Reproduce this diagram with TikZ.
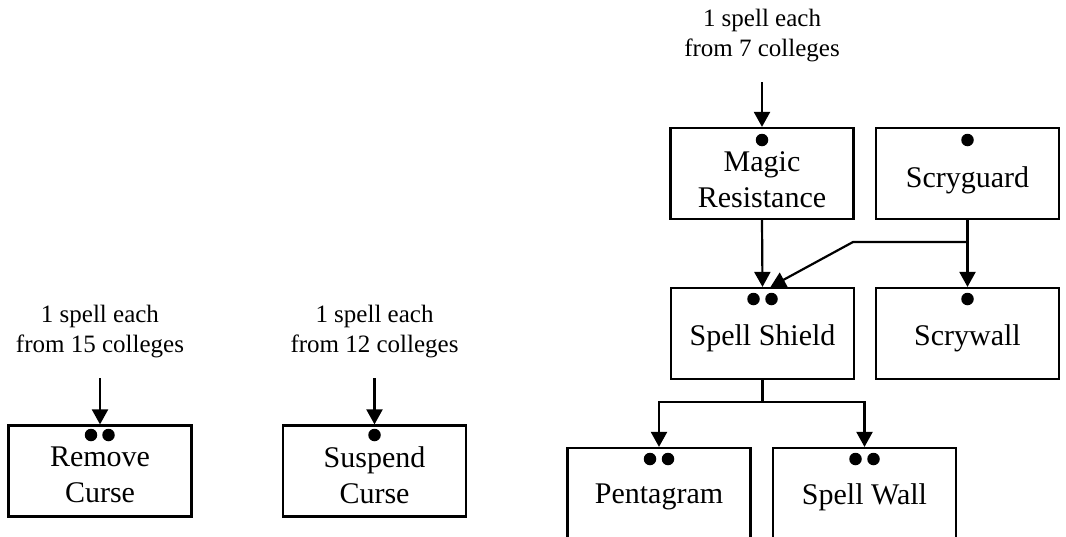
\documentclass[tikz,border=0pt]{standalone}
\usepackage{fontspec}
\setmainfont{Liberation Serif}
\usetikzlibrary{arrows.meta}
\begin{document}
\begin{tikzpicture}[x=1pt,y=-1pt,
  box/.style={draw,line width=2.2pt,minimum width=183pt,minimum height=91pt,inner sep=0pt},
  txt/.style={align=center,font=\fontsize{30}{36}\selectfont,inner sep=0pt},
  lab/.style={align=center,font=\fontsize{25}{30}\selectfont,inner sep=0pt},
  arr/.style={line width=2.2pt,-{Triangle[length=15pt,width=16pt]}},
  ln/.style={line width=2.2pt},
  dot/.style={circle,fill=black,inner sep=0pt,minimum size=12.5pt}]
\useasboundingbox (0,0) rectangle (1066,536);
% boxes
\node[box] (rc) at (100,471) {};
\node[box] (sc) at (374.5,471) {};
\node[box] (mr) at (762,173.5) {};
\node[box] (sg) at (967.5,173.5) {};
\node[box] (ss) at (762.5,333.5) {};
\node[box] (sy) at (967.5,333.5) {};
\node[box] (pg) at (659,493.5) {};
\node[box] (sw) at (864.5,493.5) {};
% texts
\node[txt] (trc) at (100,475) {Remove\\Curse};
\node[txt] (tsc) at (374.5,475) {Suspend\\Curse};
\node[txt] (tmr) at (762,180) {Magic\\Resistance};
\node[txt] (tsg) at (967.5,180) {Scryguard};
\node[txt] (tss) at (762.5,338) {Spell Shield};
\node[txt] (tsy) at (967.5,338) {Scrywall};
\node[txt] (tpg) at (659,497) {Pentagram};
\node[txt] (tsw) at (864.5,497) {Spell Wall};
% dots
\node[dot] (d1) at (91,435) {};
\node[dot] (d2) at (108.5,435) {};
\node[dot] (d3) at (374.5,435) {};
\node[dot] (d4) at (762,140) {};
\node[dot] (d5) at (967.5,140) {};
\node[dot] (d6) at (753.5,299) {};
\node[dot] (d7) at (771.5,299) {};
\node[dot] (d8) at (967.5,299) {};
\node[dot] (d9) at (650,459) {};
\node[dot] (d10) at (668,459) {};
\node[dot] (d11) at (855.5,459) {};
\node[dot] (d12) at (873.5,459) {};
% labels
\node[lab] (l1) at (100,332) {1 spell each\\from 15 colleges};
\node[lab] (l2) at (374.5,332) {1 spell each\\from 12 colleges};
\node[lab] (l3) at (762,36) {1 spell each\\from 7 colleges};
\coordinate (s1) at (100,378);
\coordinate (s2) at (374.5,378);
\coordinate (s3) at (762,82);
\draw[arr] (s1) -- (rc.north);
\draw[arr] (s2) -- (sc.north);
\draw[arr] (s3) -- (mr.north);
% connections
\coordinate (j1) at (967.5,242);
\coordinate (j2) at (853,242);
\draw[arr] (mr.south) -- (ss.north);
\draw[arr] (sg.south) -- (sy.north);
\draw[arr] (j1) -- (j2) -- ([xshift=8]ss.north);
\coordinate (j3) at (762.5,402);
\draw[ln] (ss.south) -- (j3);
\draw[arr] (j3) -| (pg.north);
\draw[arr] (j3) -| (sw.north);
\end{tikzpicture}
\end{document}
